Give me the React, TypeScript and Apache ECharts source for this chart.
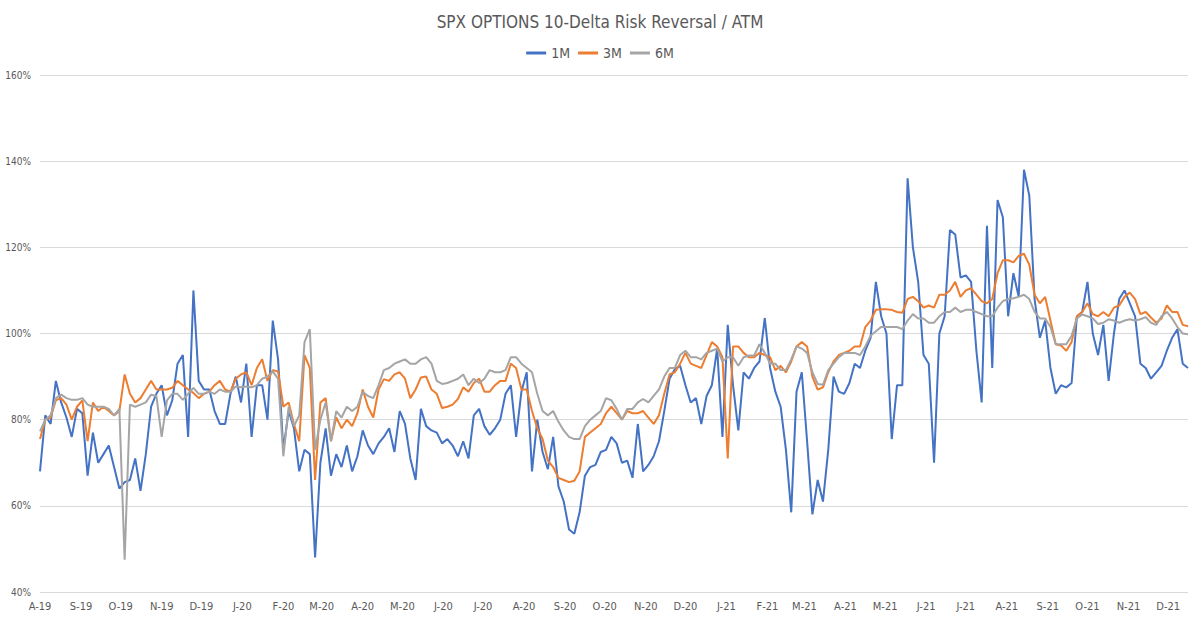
import React, { useEffect, useRef } from "react";
import * as echarts from "echarts";

// Sampling of the series: one value every STEP_DAYS calendar days from START_DATE
const START_DATE = "2019-08-01";
const STEP_DAYS = 4;
const AXIS_END_DATE = "2021-12-16";

const LEGEND_NAMES = ["1M", "3M", "6M"];
const MONTH_LETTERS = ["J", "F", "M", "A", "M", "J", "J", "A", "S", "O", "N", "D"];
const Y_TICKS = [40, 60, 80, 100, 120, 140, 160];

const rr1M = [
  68, 81, 79, 89, 84, 80.5, 76, 82.5, 81.5, 67,
  77, 70, 72, 74, 69, 64, 65.5, 66, 71, 63.5,
  72, 83, 86, 88, 81, 84.5, 93, 95, 76, 110,
  89, 87, 87, 82, 79, 79, 86, 90, 84, 93,
  76, 88, 88, 80, 103, 94, 73, 82, 78, 68,
  73, 72, 48, 70, 78, 67, 72, 69, 74, 68,
  71.5, 77.5, 74, 72, 74.5, 76, 78, 72.5, 82, 79,
  71, 66, 82.5, 78.5, 77.5, 77, 74.5, 75.5, 74, 71.5,
  75, 71, 81, 82.5, 78.5, 76.5, 78, 80, 86, 88,
  76, 86.5, 91, 68, 80, 72.5, 68.5, 76, 64.5, 61,
  54.5, 53.5, 58.5, 67, 69, 69.5, 72.5, 73, 76, 74.5,
  70, 70.5, 66.5, 79, 68, 69.5, 71.5, 75, 82, 89.5,
  91.7, 92.5, 88, 84, 85, 79, 85.5, 88, 96.5, 76,
  102, 88, 77.5, 91, 89.5, 92, 93.5, 103.6, 92, 86.5,
  83, 73, 58.5, 86.5, 91, 75, 58, 66, 61, 73,
  90, 86.5, 86, 88.5, 93, 92, 96, 99, 112, 104,
  100, 75.5, 88, 88, 136, 120, 112, 95, 93, 70,
  100, 104, 124, 123, 113, 113.5, 112, 96, 84, 125,
  92, 131, 127, 104, 114, 108.5, 138, 132, 108, 99,
  103, 92, 86, 88, 87.5, 88.5, 104, 105, 112, 100,
  95, 102, 89, 100, 108, 110, 107, 104, 93, 92,
  89.5, 91, 92.5, 96, 99, 101, 93, 92,
];

const rr3M = [
  75.5, 80, 80.5, 84.5, 85, 83.5, 80, 83, 84.5, 75,
  84, 82, 83, 82, 81, 82, 90.5, 86, 84, 85,
  87, 89, 87, 87, 87, 87.4, 89, 88, 87, 86.2,
  85, 86, 86.5, 88, 89, 87, 86.5, 89.5, 90.5, 91,
  88, 92, 94, 89, 91.5, 91.2, 83, 84, 79, 75,
  95, 92, 66, 84, 85, 75, 80.5, 78, 80, 78.5,
  81.5, 87, 83, 80.5, 87, 89.4, 89, 90.5, 91, 89.5,
  85, 87, 89.8, 90, 87, 86, 82.7, 83, 83.5, 84.8,
  87.5, 86.5, 88.5, 89.5, 86.5, 86.5, 88, 89, 89, 93,
  92, 87, 87, 82, 78, 75.5, 70.5, 69, 66.5, 66,
  65.5, 65.8, 68, 76, 77, 78, 79, 81.5, 83, 81.5,
  80, 82, 81.5, 81.5, 82, 80.5, 79, 81, 86, 90.5,
  91, 93, 95.5, 93, 92.5, 92, 95, 98, 97, 94.5,
  71, 97, 97, 95.5, 94.5, 94.5, 95.5, 95, 94.5, 91.5,
  92.5, 91, 93.5, 97, 98, 97, 90, 87, 87.5, 91,
  93.5, 95, 95.5, 96, 97, 97, 101.5, 103, 105.5, 105.6,
  105.6, 105.5, 105, 104.8, 108, 108.5, 107.5, 106, 106.5, 106,
  109, 109, 110, 112, 108.5, 110, 110.5, 109, 107.5, 107,
  108, 114, 117, 117, 116.5, 118, 118.5, 116, 109, 107,
  108.5, 103, 97.5, 97.2, 96, 98, 104, 105, 107, 104.5,
  104, 105, 104, 106, 106.5, 108.5, 109.5, 108, 104.5, 105,
  103.7, 102.5, 103.5, 106.5, 105, 105, 102, 101.7,
];

const rr6M = [
  77.3, 80, 81, 85, 85.8, 85, 84.6, 84.6, 85, 83.5,
  83, 83, 83, 82.5, 81, 82.5, 47.5, 83.5, 83, 83.5,
  84, 85.8, 85.5, 76, 84.5, 86, 86, 84.6, 86, 87.4,
  86, 86, 86.5, 86, 87, 86.5, 86.5, 87.7, 87.5, 87.7,
  87.5, 88, 89.5, 90, 91.2, 89.5, 71.5, 83, 78.5, 81,
  98, 101, 73, 80, 84, 75, 82, 80.5, 83, 82,
  83, 86.5, 85.5, 85, 88, 91.5, 92, 93, 93.5, 94,
  93, 93, 94, 94.5, 93, 89, 88.3, 88.5, 89, 89.5,
  90.5, 88, 89.5, 88.5, 89.5, 91.5, 91, 91, 91.5, 94.5,
  94.5, 93, 92, 91, 86, 82, 81, 82, 79.5, 77.5,
  76, 75.5, 75.5, 78.5, 80, 81, 82, 85, 84.5, 82.5,
  80, 82.5, 82.5, 84, 84.8, 84, 85.5, 87, 90, 92,
  92, 95, 96, 94.5, 94.5, 94, 95.5, 96, 96.5, 93.5,
  94.5, 94.5, 92.5, 94.5, 94.9, 94.9, 97.5, 95.5, 93, 93,
  91.5, 91.5, 94, 97, 96.5, 95.5, 91, 88.3, 88.1, 91.5,
  93, 94.5, 95.5, 95.5, 95.5, 95, 97, 99.5, 100.5, 101.5,
  101.5, 101.5, 101.5, 101, 103, 104.5, 103.5, 103.5, 102.5, 102.5,
  104, 105, 105, 106, 105, 105.5, 105.5, 105, 104.5, 104,
  104, 106, 107.5, 108, 108.2, 108.5, 109, 108, 105, 103.5,
  103.5, 101.5, 97.5, 97.5, 97.5, 99.5, 103.5, 104.4, 104, 103.5,
  102.2, 102.5, 103.3, 103, 102.5, 103, 103.3, 103, 103.3, 103.8,
  102.5, 102, 104, 105, 103.5, 101.5, 100, 99.8,
];

const DAY_MS = 86400000;
const T0 = Date.parse(START_DATE + "T00:00:00Z");
const END_DAY = Math.round((Date.parse(AXIS_END_DATE + "T00:00:00Z") - T0) / DAY_MS);

// x = days since START_DATE
function toPairs(values: number[]): [number, number][] {
  return values.map((v, i) => [i * STEP_DAYS, v]);
}

function monthStartDays(): number[] {
  const out: number[] = [];
  const start = new Date(T0);
  let y = start.getUTCFullYear();
  let m = start.getUTCMonth();
  while (true) {
    const d = Math.round((Date.UTC(y, m, 1) - T0) / DAY_MS);
    if (d > END_DAY) break;
    out.push(d);
    m++;
    if (m > 11) {
      m = 0;
      y++;
    }
  }
  return out;
}

const FONT = "'DejaVu Sans Condensed', 'Liberation Sans Narrow', Roboto, sans-serif";
const TEXT = "#595959";

export default function App() {
  const ref = useRef<HTMLDivElement>(null);

  useEffect(() => {
    document.body.style.margin = "0";
    if (!ref.current) return;
    const chart = echarts.init(ref.current, undefined, { renderer: "svg" });
    const colors = ["#4472C4", "#ED7D31", "#A5A5A5"];
    const seriesData = [rr1M, rr3M, rr6M];

    chart.setOption({
      animation: false,
      backgroundColor: "#ffffff",
      textStyle: { fontFamily: FONT },
      title: {
        text: "SPX OPTIONS 10-Delta Risk Reversal / ATM",
        left: "center",
        top: 8,
        textStyle: { fontFamily: FONT, fontSize: 17, fontWeight: "normal", color: TEXT },
      },
      legend: {
        data: LEGEND_NAMES,
        top: 41,
        left: "center",
        icon: "rect",
        itemWidth: 20,
        itemHeight: 3,
        itemGap: 8,
        textStyle: { fontFamily: FONT, fontSize: 14, color: TEXT },
      },
      grid: { left: 40, right: 12, top: 75, bottom: 28, containLabel: false },
      xAxis: {
        type: "value",
        min: 0,
        max: END_DAY,
        axisLine: { show: false },
        axisTick: { show: false },
        splitLine: { show: false },
        axisLabel: {
          customValues: monthStartDays(),
          hideOverlap: false,
          margin: 9,
          color: TEXT,
          fontSize: 11,
          fontFamily: FONT,
          formatter: (val: number) => {
            const d = new Date(T0 + Math.round(val) * DAY_MS);
            const yy = String(d.getUTCFullYear() % 100).padStart(2, "0");
            return MONTH_LETTERS[d.getUTCMonth()] + "-" + yy;
          },
        },
      },
      yAxis: {
        type: "value",
        min: Y_TICKS[0],
        max: Y_TICKS[Y_TICKS.length - 1],
        interval: 20,
        axisLine: { show: false },
        axisTick: { show: false },
        splitLine: { lineStyle: { color: "#D9D9D9", width: 1 } },
        axisLabel: {
          formatter: "{value}%",
          color: TEXT,
          fontSize: 10,
          fontFamily: FONT,
          margin: 9,
        },
      },
      series: LEGEND_NAMES.map((name, k) => ({
        name,
        type: "line",
        data: toPairs(seriesData[k]),
        showSymbol: false,
        symbol: "none",
        lineStyle: { width: 2, color: colors[k] },
        itemStyle: { color: colors[k] },
        z: 2 + k,
      })),
    });

    return () => chart.dispose();
  }, []);

  return <div ref={ref} style={{ width: 1200, height: 620 }} />;
}
